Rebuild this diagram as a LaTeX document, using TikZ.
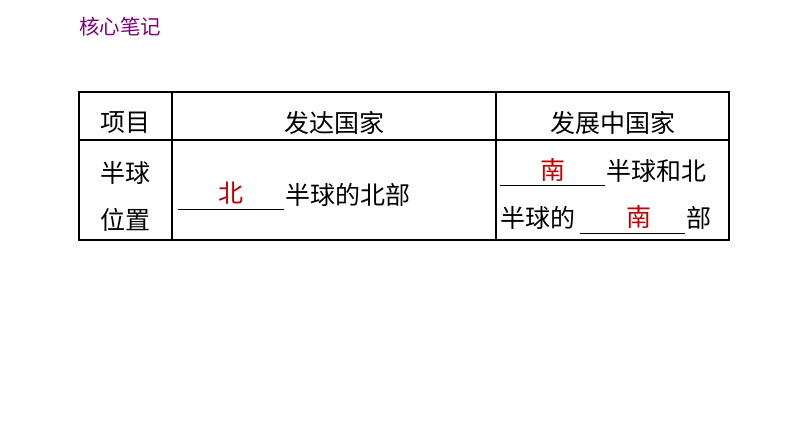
\documentclass[tikz,border=0pt]{standalone}
\usepackage{fontspec}
\newfontfamily\cjk{Noto Sans CJK SC}
\begin{document}
\begin{tikzpicture}[x=1pt,y=-1pt,
  t/.style={font=\cjk\fontsize{25}{25}\selectfont,inner sep=0pt},
  ans/.style={t,text={rgb,255:red,192;green,0;blue,0}},
  ln/.style={line width=1.1pt},
  ul/.style={line width=0.9pt}]
\useasboundingbox (0,0) rectangle (794,447);
\node[inner sep=0pt,anchor=west,font=\cjk\fontsize{20.5}{20.5}\selectfont,text={rgb,255:red,128;green,0;blue,128}] (title) at (79,27) {核心笔记};
% table
\draw[ln] (79,92) rectangle (729,240);
\draw[ln] (79,140) -- (729,140);
\draw[ln] (172,92) -- (172,240);
\draw[ln] (496,92) -- (496,240);
\node[t] (h1) at (125.5,123) {项目};
\node[t] (h2) at (334,123) {发达国家};
\node[t] (h3) at (612.5,123) {发展中国家};
\node[t] (c1a) at (125.5,173) {半球};
\node[t] (c1b) at (125.5,220) {位置};
% middle
\coordinate (u1a) at (178,209); \coordinate (u1b) at (284,209);
\draw[ul] (u1a) -- (u1b);
\node[ans] (a1) at (231,193) {北};
\node[t,anchor=west] (m1) at (285,195) {半球的北部};
% right
\coordinate (u2a) at (500,185); \coordinate (u2b) at (605,185);
\draw[ul] (u2a) -- (u2b);
\node[ans] (a2) at (553,170) {南};
\node[t,anchor=west] (r1) at (606,171) {半球和北};
\node[t,anchor=west] (r2) at (500,218) {半球的};
\coordinate (u3a) at (580,233); \coordinate (u3b) at (685,233);
\draw[ul] (u3a) -- (u3b);
\node[ans] (a3) at (639,217) {南};
\node[t,anchor=west] (r3) at (686,218) {部};
\end{tikzpicture}
\end{document}
